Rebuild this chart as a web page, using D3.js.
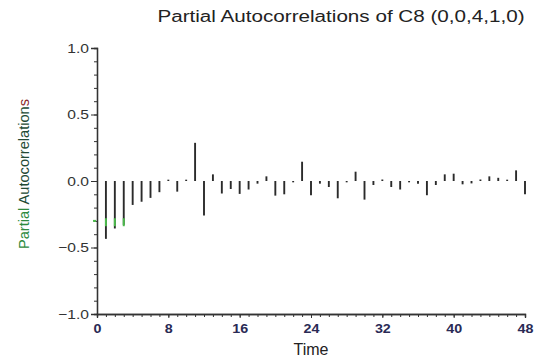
<!DOCTYPE html>
<html>
<head>
<meta charset="utf-8">
<script src="https://cdn.jsdelivr.net/npm/d3@7"></script>
<style>
  body { margin: 0; background: #fff; }
  svg { font-family: 'Liberation Sans', Arial, sans-serif; }
  .axis path, .axis line { stroke: #333; }
  .axis text { fill: #333; font-size: 13px; }
  .xaxis text { fill: #2a2a55; }
</style>
</head>
<body>
<div class="chart"></div>
<script>
// pacf values, lags 1..48
var lags = d3.range(1, 49)
var pacf = [
  -0.435, -0.357, -0.33, -0.18, -0.156, -0.127, -0.084, 0.01,
  -0.08, 0.01, 0.287, -0.26, 0.05, -0.094, -0.06, -0.097,
  -0.064, -0.02, 0.035, -0.11, -0.10, -0.01, 0.145, -0.107,
  -0.02, -0.045, -0.13, -0.01, 0.07, -0.14, -0.03, 0.0,
  -0.045, -0.064, -0.01, -0.02, -0.107, -0.03, 0.05, 0.055,
  -0.025, -0.018, 0.005, 0.035, 0.024, 0.01, 0.08, -0.1
]
var yTicks = [-1.0, -0.5, 0.0, 0.5, 1.0]
var xTicks = [0, 8, 16, 24, 32, 40, 48]
var limit = -0.3
var limitLags = [1, 2, 3]

var width = 536
var height = 363
var margin = { left: 97, right: 11, top: 48, bottom: 49 }

var svg = d3.select('.chart')
  .append('svg')
  .attr('width', width)
  .attr('height', height)

var x = d3.scaleLinear()
  .domain([0, 48])
  .range([margin.left, width - margin.right])

var y = d3.scaleLinear()
  .domain([-1, 1])
  .range([height - margin.bottom, margin.top])

// the scan is stretched sideways, so widen the text a bit
function widen (sel, k) {
  sel.each(function () {
    var w = this.getComputedTextLength()
    d3.select(this)
      .attr('textLength', w * k)
      .attr('lengthAdjust', 'spacingAndGlyphs')
  })
}

// title
svg.append('text')
  .attr('x', 341)
  .attr('y', 22)
  .attr('text-anchor', 'middle')
  .attr('font-size', '16px')
  .attr('fill', '#222')
  .text('Partial Autocorrelations of C8 (0,0,4,1,0)')
  .call(widen, 1.29)

// minor ticks
svg.append('g')
  .attr('class', 'axis')
  .attr('transform', 'translate(' + margin.left + ',0)')
  .call(d3.axisLeft(y).tickValues(d3.range(-10, 11).map(function (d) { return d / 10 }))
    .tickSize(3).tickFormat(''))
svg.append('g')
  .attr('class', 'axis')
  .attr('transform', 'translate(0,' + y(-1) + ')')
  .call(d3.axisBottom(x).tickValues(d3.range(0, 49)).tickSize(3).tickFormat(''))

// major ticks
svg.append('g')
  .attr('class', 'axis')
  .attr('transform', 'translate(' + margin.left + ',0)')
  .call(d3.axisLeft(y).tickValues(yTicks).tickSize(6).tickPadding(2)
    .tickFormat(d3.format('.1f')))
  .selectAll('text')
  .call(widen, 1.2)
svg.append('g')
  .attr('class', 'axis xaxis')
  .attr('transform', 'translate(0,' + y(-1) + ')')
  .call(d3.axisBottom(x).tickValues(xTicks).tickSize(4).tickPadding(6))
  .selectAll('text')
  .attr('font-weight', 'bold')
  .attr('font-size', '12.5px')
  .call(widen, 1.1)

svg.selectAll('.domain').attr('stroke-width', 1.3)

// bars
svg.selectAll('line.bar')
  .data(pacf)
  .enter()
  .append('line')
  .attr('class', 'bar')
  .attr('x1', function (d, i) { return x(lags[i]) })
  .attr('x2', function (d, i) { return x(lags[i]) })
  .attr('y1', y(0))
  .attr('y2', function (d) { return Math.abs(d) < 0.01 ? y(0) - 1.5 : y(d) })
  .attr('stroke', '#2b2b2b')
  .attr('stroke-width', 1.9)

// green limit marks where the bars cross
svg.selectAll('line.lim')
  .data(limitLags)
  .enter()
  .append('line')
  .attr('class', 'lim')
  .attr('x1', function (d) { return x(d) })
  .attr('x2', function (d) { return x(d) })
  .attr('y1', y(limit + 0.02))
  .attr('y2', y(limit - 0.04))
  .attr('stroke', '#4cbb4c')
  .attr('stroke-width', 2)
svg.append('line')
  .attr('x1', x(0) - 4)
  .attr('x2', x(0) - 1)
  .attr('y1', y(limit))
  .attr('y2', y(limit))
  .attr('stroke', '#4cbb4c')
  .attr('stroke-width', 2)

// axis titles
svg.append('text')
  .attr('x', 311)
  .attr('y', 355)
  .attr('text-anchor', 'middle')
  .attr('font-size', '16px')
  .attr('fill', '#222')
  .text('Time')

var yl = svg.append('text')
  .attr('transform', 'translate(29,174) rotate(-90)')
  .attr('text-anchor', 'middle')
  .attr('font-size', '14.6px')
yl.append('tspan').attr('fill', '#2e8a3e').text('Partial ')
yl.append('tspan').attr('fill', '#234a34').text('Autocorrelation')
yl.append('tspan').attr('fill', '#8a2a2a').text('s')
</script>
</body>
</html>
